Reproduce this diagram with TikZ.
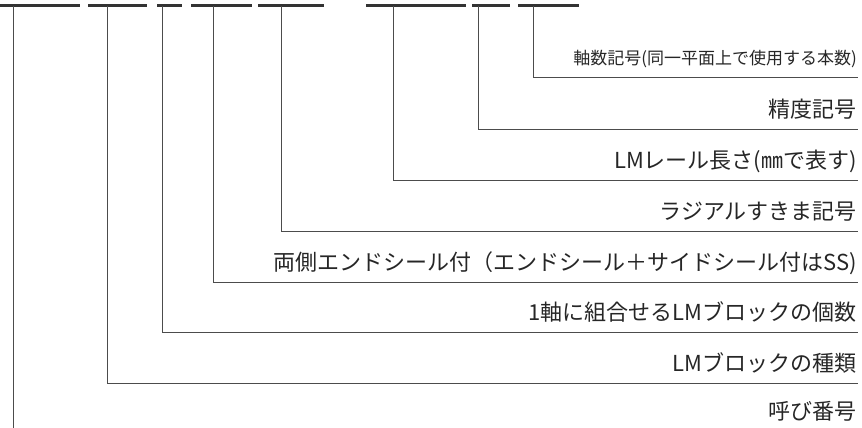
\documentclass[tikz,border=0pt]{standalone}
\usepackage{fontspec}
\setmainfont{Noto Sans CJK JP}
\usetikzlibrary{positioning}

\begin{document}
\begin{tikzpicture}[x=1pt,y=-1pt]
  %----- styles
  \tikzset{
    desc/.style     ={anchor=base east,inner sep=0pt,text=black!85,font=\fontsize{22}{24}\selectfont},
    descsmall/.style={desc,font=\fontsize{17}{20}\selectfont},
    bar/.style      ={line width=3pt,draw=black!80},
    leader/.style   ={line width=1pt,draw=black!70}
  }
  \useasboundingbox (0,0) rectangle (862,428);

  %----- code segments (top bars)
  \draw[bar] (0,6)   -- (80,6);
  \draw[bar] (88,6)  -- (147,6);
  \draw[bar] (157,6) -- (182,6);
  \draw[bar] (191,6) -- (252,6);
  \draw[bar] (258,6) -- (324,6);
  \draw[bar] (366,6) -- (466,6);
  \draw[bar] (472,6) -- (510,6);
  \draw[bar] (518,6) -- (579,6);

  %----- taps under the bars
  \coordinate (nb)  at (13,6);
  \coordinate (blk) at (107,6);
  \coordinate (cnt) at (162,6);
  \coordinate (uu)  at (213,6);
  \coordinate (rad) at (281,6);
  \coordinate (len) at (393,6);
  \coordinate (acc) at (478,6);
  \coordinate (ax)  at (533,6);

  %----- line ends on the right
  \coordinate (axE)  at (858,78);
  \coordinate (accE) at (858,129);
  \coordinate (lenE) at (858,180);
  \coordinate (radE) at (858,231);
  \coordinate (uuE)  at (858,282);
  \coordinate (cntE) at (858,332);
  \coordinate (blkE) at (858,383);
  \coordinate (nbE)  at (13,428);

  %----- descriptions
  \node[descsmall] (axT) at (857,65)  {軸数記号(同一平面上で使用する本数)};
  \node[desc] (accT) at (857,117) {精度記号};
  \node[desc] (lenT) at (857,168) {LMレール長さ(㎜で表す)};
  \node[desc] (radT) at (857,219) {ラジアルすきま記号};
  \node[desc] (uuT)  at (857,270) {両側エンドシール付（エンドシール＋サイドシール付はSS)};
  \node[desc] (cntT) at (857,320) {1軸に組合せるLMブロックの個数};
  \node[desc] (blkT) at (857,371) {LMブロックの種類};
  \node[desc] (nbT)  at (857,419) {呼び番号};

  %----- leaders
  \draw[leader] (ax)  |- (axE);
  \draw[leader] (acc) |- (accE);
  \draw[leader] (len) |- (lenE);
  \draw[leader] (rad) |- (radE);
  \draw[leader] (uu)  |- (uuE);
  \draw[leader] (cnt) |- (cntE);
  \draw[leader] (blk) |- (blkE);
  \draw[leader] (nb)  -- (nbE);
\end{tikzpicture}
\end{document}
